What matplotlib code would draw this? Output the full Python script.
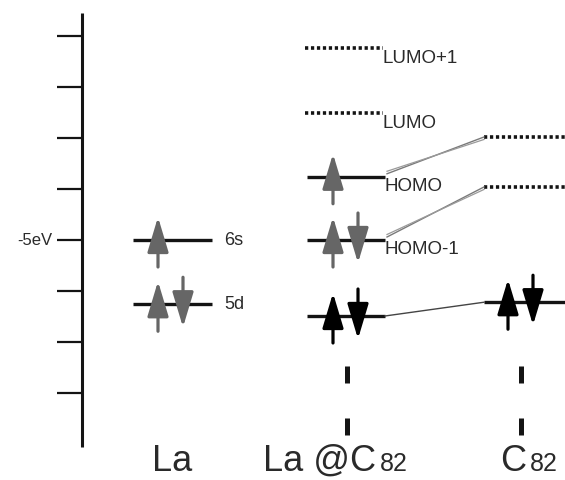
import matplotlib
matplotlib.use("Agg")
import matplotlib.pyplot as plt

plt.rcParams['font.family'] = ['Liberation Sans', 'DejaVu Sans']

# ---------------- data (energies in eV) ----------------
tick_energies = [-3.0, -3.5, -4.0, -4.5, -5.0, -5.5, -6.0, -6.5]
tick_label_energy = -5.0
tick_label = "-5eV"
axis_range = (-2.775, -7.03)

la_levels = [-5.0, -5.63]
la_labels = ["6s", "5d"]
la_electrons = [1, 2]

lac82_occ = [-4.38, -5.0, -5.745]
lac82_occ_labels = ["HOMO", "HOMO-1", ""]
lac82_electrons = [1, 2, 2]
lac82_unocc = [-3.12, -3.755]
lac82_unocc_labels = ["LUMO+1", "LUMO"]

c82_unocc = [-3.99, -4.48]
c82_occ = [-5.61]
c82_electrons = [2]

# correlations: (La@C82 level, C82 level)
links_hatched = [(-4.38, -3.99), (-5.0, -4.48)]
links_thin = [(-5.745, -5.61)]

column_names = ["La", "La @C", "C"]
column_subs = ["", "82", "82"]

# ---------------- layout (pixel-like x, energy y) ----------------
PX = 102.0  # pixels per eV
fig = plt.figure(figsize=(5.65, 4.8), dpi=100)
ax = fig.add_axes([0, 0, 1, 1])
ax.set_xlim(0, 565)
ax.set_ylim(-5 - 240 / PX, -5 + 240 / PX)
ax.axis('off')

line_col = '#141414'
text_col = '#2a2a2a'
gray_arrow = '#666666'

# energy axis
ax.plot([82, 82], list(axis_range), color=line_col, lw=2.2, solid_capstyle='butt')
for e in tick_energies:
    ax.plot([57, 82], [e, e], color=line_col, lw=1.6, solid_capstyle='butt')
ax.text(52, tick_label_energy, tick_label, ha='right', va='center',
        fontsize=12, color=text_col)

up_tip = 23 / PX
tail = 27 / PX


def arrow(x, e, up, color):
    if up:
        xy, xyt = (x, e + up_tip), (x, e - tail)
    else:
        xy, xyt = (x, e - up_tip), (x, e + tail)
    ax.annotate('', xy=xy, xytext=xyt,
                arrowprops=dict(arrowstyle='-|>,head_length=1.2,head_width=0.36',
                                mutation_scale=18, lw=2.3, color=color,
                                shrinkA=0, shrinkB=0), zorder=3)


def electrons(x0, e, n, color):
    arrow(x0, e, True, color)
    if n > 1:
        arrow(x0 + 25, e, False, color)


# La column
for e, lab, n in zip(la_levels, la_labels, la_electrons):
    ax.plot([133, 212], [e, e], color=line_col, lw=2.4, solid_capstyle='butt')
    electrons(158, e, n, gray_arrow)
    ax.text(224, e, lab, ha='left', va='center', fontsize=13, color=text_col)

# La@C82 column
for i, (e, lab, n) in enumerate(zip(lac82_occ, lac82_occ_labels, lac82_electrons)):
    ax.plot([307, 385], [e, e], color=line_col, lw=2.4, solid_capstyle='butt')
    col = 'black' if i == len(lac82_occ) - 1 else gray_arrow
    electrons(333, e, n, col)
    if lab:
        ax.text(385, e - 1.0 / PX, lab, ha='left', va='top', fontsize=13.5, color=text_col)
for e, lab in zip(lac82_unocc, lac82_unocc_labels):
    ax.plot([305, 383], [e, e], color=line_col, lw=2.6, linestyle=(0, (0.9, 0.75)),
            dash_capstyle='butt')
    ax.text(383, e - 1.5 / PX, lab, ha='left', va='top', fontsize=13.5, color=text_col)

# C82 column
for e in c82_unocc:
    ax.plot([484, 565], [e, e], color=line_col, lw=2.6, linestyle=(0, (0.9, 0.75)),
            dash_capstyle='butt')
for e, n in zip(c82_occ, c82_electrons):
    ax.plot([484, 565], [e, e], color=line_col, lw=2.4, solid_capstyle='butt')
    electrons(508, e, n, 'black')

# correlation lines
for a, b in links_hatched:
    ax.plot([387, 484], [a + 3 / PX, b], color='#7a7a7a', lw=1.0)
    ax.plot([387, 484], [a + 5.5 / PX, b - 2.5 / PX], color='#9a9a9a', lw=0.9)
for a, b in links_thin:
    ax.plot([385, 484], [a, b], color='#444444', lw=1.0)

# vertical dashes under molecular columns
for x in [347, 521]:
    ax.plot([x, x], [-6.235, -6.912], color=line_col, lw=3.6,
            linestyle=(0, (3.4, 7.0)), dash_capstyle='butt')

# column names
base_e = -5 - 231 / PX
name_x = [152, 263, 500]
sub_x = [None, 380, 530]
for nm, sb, x, sx in zip(column_names, column_subs, name_x, sub_x):
    ax.text(x, base_e, nm, ha='left', va='baseline', fontsize=26, color=text_col)
    if sb:
        ax.text(sx, base_e, sb, ha='left', va='baseline', fontsize=18, color=text_col)

fig.savefig('out.png', dpi=100)
